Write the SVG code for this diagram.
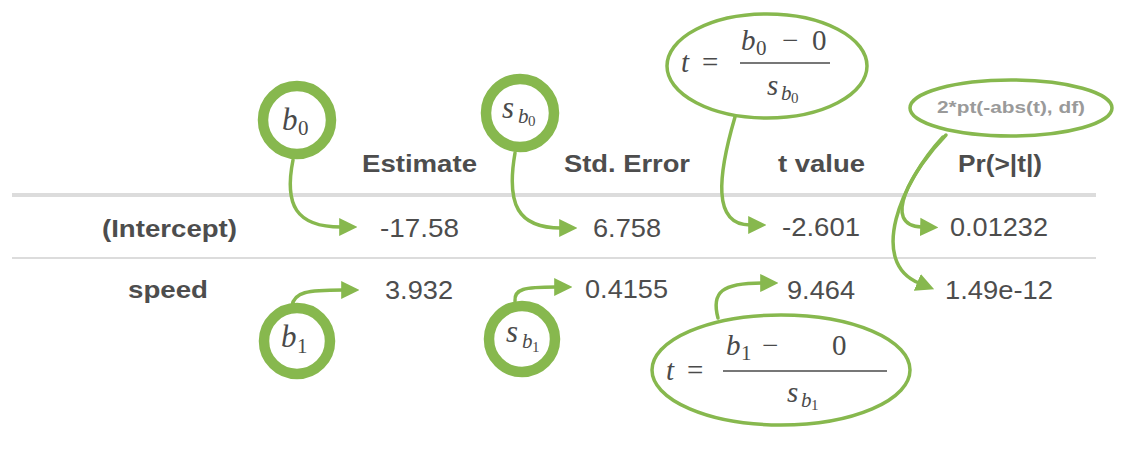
<svg xmlns="http://www.w3.org/2000/svg" width="1134" height="454" viewBox="0 0 1134 454">
<style>
.hd{font-family:"Liberation Sans",Arial,sans-serif;font-weight:bold;font-size:24px;fill:#4d4d4d}
.v{font-family:"Liberation Sans",Arial,sans-serif;font-size:25px;fill:#4d4d4d}
.m{font-family:"Liberation Serif","Times New Roman",serif;fill:#4a4a4a}
.i{font-style:italic}
.ring{fill:#fff;stroke:#87b84e;stroke-width:10.5}
.ell{fill:none;stroke:#87b84e;stroke-width:3.5}
.con{fill:none;stroke:#87b84e;stroke-width:3.5;stroke-linecap:round}
.bar{stroke:#4a4a4a;stroke-width:1.6}
</style>
<defs>
<marker id="ah" viewBox="0 0 10 10" refX="1" refY="5" markerWidth="5.2" markerHeight="5.8" markerUnits="strokeWidth" orient="auto">
<path d="M0,0 L10,5 L0,10 Z" fill="#87b84e"/>
</marker>
</defs>
<rect width="1134" height="454" fill="#fff"/>

<g id="table">
<rect x="12" y="193" width="1084" height="4" fill="#dcdcdc"/>
<rect x="12" y="257" width="1084" height="2" fill="#dcdcdc"/>
<text class="hd" x="362" y="172" textLength="115" lengthAdjust="spacingAndGlyphs">Estimate</text>
<text class="hd" x="564" y="172" textLength="126" lengthAdjust="spacingAndGlyphs">Std. Error</text>
<text class="hd" x="778" y="172" textLength="87" lengthAdjust="spacingAndGlyphs">t value</text>
<text class="hd" x="958" y="172" textLength="84" lengthAdjust="spacingAndGlyphs">Pr(&gt;|t|)</text>
<text class="hd" x="102" y="237" textLength="135" lengthAdjust="spacingAndGlyphs">(Intercept)</text>
<text class="hd" x="128" y="298" textLength="80" lengthAdjust="spacingAndGlyphs">speed</text>
<text class="v" x="380" y="237" textLength="79" lengthAdjust="spacingAndGlyphs">-17.58</text>
<text class="v" x="593" y="237" textLength="68" lengthAdjust="spacingAndGlyphs">6.758</text>
<text class="v" x="782" y="236" textLength="78" lengthAdjust="spacingAndGlyphs">-2.601</text>
<text class="v" x="950" y="236" textLength="98" lengthAdjust="spacingAndGlyphs">0.01232</text>
<text class="v" x="385" y="299" textLength="68" lengthAdjust="spacingAndGlyphs">3.932</text>
<text class="v" x="585" y="298" textLength="83" lengthAdjust="spacingAndGlyphs">0.4155</text>
<text class="v" x="787" y="299" textLength="68" lengthAdjust="spacingAndGlyphs">9.464</text>
<text class="v" x="945" y="299" textLength="108" lengthAdjust="spacingAndGlyphs">1.49e-12</text>
</g>

<g id="connectors">
<path class="con" d="M293,160 C284,205 296,227 341,227" marker-end="url(#ah)"/>
<path class="con" d="M515,153 C506,205 518,228 561,228" marker-end="url(#ah)"/>
<path class="con" d="M735,117 C718,175 712,225 750,225" marker-end="url(#ah)"/>
<path class="con" d="M946,135 C912,170 880,226 922,227" marker-end="url(#ah)"/>
<path class="con" d="M943,137 C901,182 868,262 919,283" marker-end="url(#ah)"/>
<path class="con" d="M292,306 C294,292 307,290 343,290" marker-end="url(#ah)"/>
<path class="con" d="M515,301 C514,289 524,287 556,287" marker-end="url(#ah)"/>
<path class="con" d="M718,318 C711,292 722,283 762,283" marker-end="url(#ah)"/>
</g>

<g id="b0">
<circle class="ring" cx="297" cy="120" r="34"/>
<text class="m" y="130"><tspan class="i" x="282" font-size="31">b</tspan><tspan x="298" font-size="21" y="135">0</tspan></text>
</g>
<g id="sb0">
<circle class="ring" cx="520" cy="113" r="34"/>
<text class="m"><tspan class="i" x="502" y="118" font-size="31">s</tspan><tspan class="i" x="518" y="123" font-size="21">b</tspan><tspan x="528" y="126" font-size="15">0</tspan></text>
</g>
<g id="b1">
<circle class="ring" cx="297" cy="341" r="33"/>
<text class="m"><tspan class="i" x="281" y="347" font-size="31">b</tspan><tspan x="297" y="353" font-size="21">1</tspan></text>
</g>
<g id="sb1">
<circle class="ring" cx="522" cy="339" r="33"/>
<text class="m"><tspan class="i" x="506" y="342" font-size="31">s</tspan><tspan class="i" x="522" y="348" font-size="21">b</tspan><tspan x="532" y="352" font-size="15">1</tspan></text>
</g>

<g id="t0">
<ellipse class="ell" cx="767" cy="66" rx="100" ry="52"/>
<text class="m i" x="681" y="72" font-size="29">t</text>
<text class="m" x="702" y="72" font-size="29">=</text>
<text class="m"><tspan class="i" x="741" y="50" font-size="29">b</tspan><tspan x="756" y="55" font-size="21">0</tspan><tspan x="782" y="50" font-size="29">−</tspan><tspan x="812" y="50" font-size="29">0</tspan></text>
<line class="bar" x1="740" y1="63" x2="830" y2="63"/>
<text class="m"><tspan class="i" x="767" y="95" font-size="29">s</tspan><tspan class="i" x="781" y="100" font-size="21">b</tspan><tspan x="791" y="103" font-size="15">0</tspan></text>
</g>

<g id="pval">
<ellipse class="ell" cx="1011" cy="108" rx="101" ry="28"/>
<text x="1011" y="113" text-anchor="middle" font-family="'Liberation Sans',Arial,sans-serif" font-weight="bold" font-size="17" fill="#9a9a9a" textLength="148" lengthAdjust="spacingAndGlyphs">2*pt(-abs(t), df)</text>
</g>

<g id="t1">
<ellipse class="ell" cx="781" cy="370" rx="129" ry="55"/>
<text class="m i" x="666" y="380" font-size="29">t</text>
<text class="m" x="687" y="380" font-size="29">=</text>
<text class="m"><tspan class="i" x="726" y="355" font-size="29">b</tspan><tspan x="741" y="360" font-size="21">1</tspan><tspan x="762" y="355" font-size="29">−</tspan><tspan x="832" y="355" font-size="29">0</tspan></text>
<line class="bar" x1="723" y1="371" x2="887" y2="371"/>
<text class="m"><tspan class="i" x="787" y="402" font-size="29">s</tspan><tspan class="i" x="801" y="407" font-size="21">b</tspan><tspan x="811" y="410" font-size="15">1</tspan></text>
</g>
</svg>
